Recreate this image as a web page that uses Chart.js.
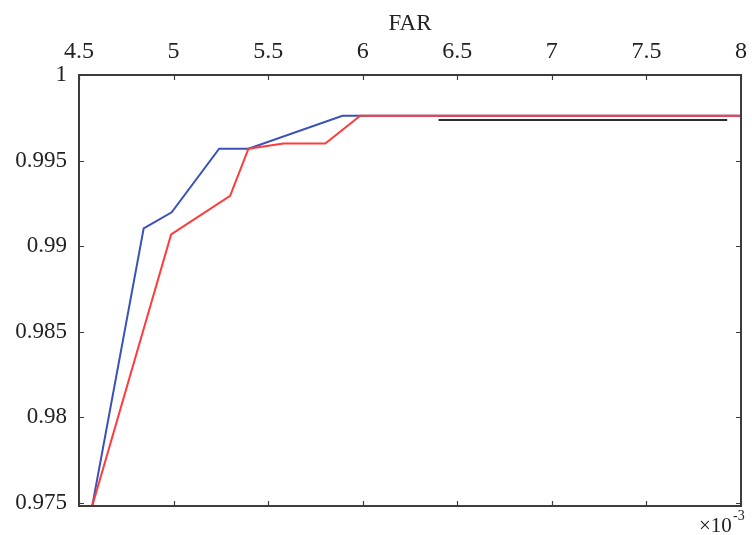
<!DOCTYPE html>
<html>
<head>
<meta charset="utf-8">
<script src="https://cdn.jsdelivr.net/npm/chart.js@4/dist/chart.umd.min.js"></script>
<style>
html,body{margin:0;padding:0;background:#fff;}
#wrap{position:relative;width:752px;height:535px;}
</style>
</head>
<body>
<div id="wrap"><canvas id="c" width="752" height="535"></canvas></div>
<script>
// FAR (x10^-3) values and detection rates
const blueX = [4.57, 4.842, 4.990, 5.241, 5.396, 5.893, 5.987, 8.0];
const blueY = [0.9748, 0.99103, 0.99197, 0.99569, 0.99569, 0.99762, 0.99762, 0.99762];
const redX = [4.57, 4.987, 5.299, 5.396, 5.581, 5.802, 5.987, 8.0];
const redY = [0.9748, 0.99068, 0.99294, 0.99569, 0.99600, 0.99600, 0.99762, 0.99762];
const refX = [6.401, 7.927];
const refY = [0.99737, 0.99737];
const xTicks = [4.5, 5, 5.5, 6, 6.5, 7, 7.5, 8];
const xTickLabels = ['4.5', '5', '5.5', '6', '6.5', '7', '7.5', '8'];
const yTicks = [0.975, 0.98, 0.985, 0.99, 0.995, 1];
const yTickLabels = ['0.975', '0.98', '0.985', '0.99', '0.995', '1'];
const xTitle = 'FAR';

const toPts = (xs, ys) => xs.map((x, i) => ({x: x, y: ys[i]}));
const AXIS = '#3c3c3c';
const FONT = '"Liberation Serif", "Times New Roman", serif';

const framePlugin = {
  id: 'frame',
  afterDraw(chart) {
    const ctx = chart.ctx, a = chart.chartArea;
    const xs = chart.scales.x, ys = chart.scales.y;
    ctx.save();
    ctx.strokeStyle = AXIS;
    ctx.lineWidth = 2;
    ctx.strokeRect(a.left, a.top, a.right - a.left, a.bottom - a.top);
    ctx.lineWidth = 1.2;
    const L = 5;
    ctx.beginPath();
    xTicks.forEach(v => {
      const px = Math.round(xs.getPixelForValue(v)) + 0.5;
      ctx.moveTo(px, a.top); ctx.lineTo(px, a.top + L);
      ctx.moveTo(px, a.bottom); ctx.lineTo(px, a.bottom - L);
    });
    yTicks.forEach(v => {
      const py = Math.round(ys.getPixelForValue(v)) + 0.5;
      ctx.moveTo(a.left, py); ctx.lineTo(a.left + L, py);
      ctx.moveTo(a.right, py); ctx.lineTo(a.right - L, py);
    });
    ctx.stroke();
    // exponent label
    ctx.fillStyle = '#222';
    ctx.textBaseline = 'alphabetic';
    ctx.textAlign = 'left';
    ctx.font = '21px ' + FONT;
    ctx.fillText('×10', 699, 532);
    ctx.font = '14px ' + FONT;
    ctx.fillText('-3', 733, 520);
    ctx.restore();
  }
};

new Chart(document.getElementById('c'), {
  type: 'line',
  data: {
    datasets: [
      {data: toPts(redX, redY), borderColor: '#ff3b3b', borderWidth: 2, pointRadius: 0, tension: 0},
      {data: toPts(blueX, blueY), borderColor: '#3a52b8', borderWidth: 2, pointRadius: 0, tension: 0},
      {data: toPts(refX, refY), borderColor: '#2b2b2b', borderWidth: 2, pointRadius: 0, tension: 0}
    ]
  },
  options: {
    responsive: false,
    animation: false,
    layout: {padding: {left: 0, right: 11, top: 0, bottom: 29}},
    plugins: {legend: {display: false}, tooltip: {enabled: false}},
    scales: {
      x: {
        type: 'linear', position: 'top', min: 4.5, max: 8,
        afterBuildTicks: s => { s.ticks = xTicks.map(v => ({value: v})); },
        afterFit: s => { s.height = 75; s.paddingLeft = 0; s.paddingRight = 0; },
        grid: {display: false, drawTicks: false},
        border: {display: false},
        ticks: {
          color: '#222', font: {family: FONT, size: 24}, padding: 9, maxRotation: 0,
          autoSkip: false,
          callback: (v, i) => xTickLabels[i]
        },
        title: {display: true, text: xTitle, color: '#222', font: {family: FONT, size: 23}, padding: {top: 10, bottom: 0}}
      },
      y: {
        type: 'linear', min: 0.9748, max: 1,
        afterBuildTicks: s => { s.ticks = yTicks.map(v => ({value: v})); },
        afterFit: s => { s.width = 79; s.paddingTop = 0; s.paddingBottom = 0; },
        grid: {display: false, drawTicks: false},
        border: {display: false},
        ticks: {
          color: '#222', font: {family: FONT, size: 23}, padding: 12,
          autoSkip: false,
          callback: (v, i) => yTickLabels[i]
        }
      }
    }
  },
  plugins: [framePlugin]
});
</script>
</body>
</html>
